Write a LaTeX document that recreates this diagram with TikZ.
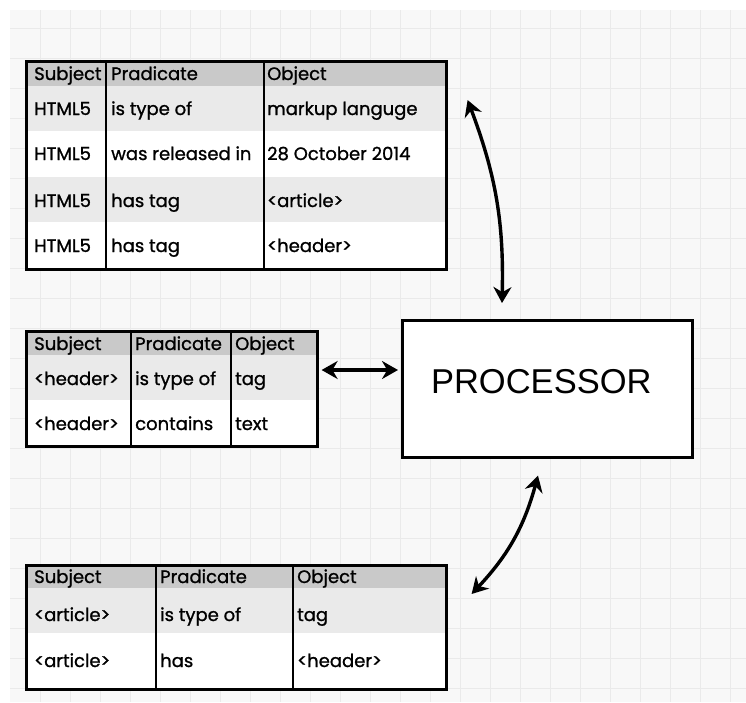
\documentclass[tikz,border=0pt]{standalone}
\usepackage{fontspec}
\setmainfont{Poppins}[FakeBold=1.1]
\newfontfamily\procfont{Liberation Sans}
\usetikzlibrary{arrows.meta,calc}
\definecolor{hdr}{HTML}{C9C9C9}
\definecolor{alt}{HTML}{EAEAEA}
\definecolor{bgc}{HTML}{F8F8F8}
\definecolor{gridc}{HTML}{EAEAEA}
\tikzset{
  tblbox/.style={draw=black, line width=2.6pt, anchor=north west, inner sep=0pt},
  colline/.style={draw=black, line width=1.8pt},
  cell/.style={anchor=base west, inner sep=0pt, font=\fontsize{18}{20}\selectfont},
  conn/.style={draw=black, line width=3.4pt, {Stealth[length=16pt,width=18pt]}-{Stealth[length=16pt,width=18pt]}},
}
\begin{document}
\begin{tikzpicture}[x=1pt,y=-1pt]
\useasboundingbox (0,0) rectangle (746,702);
\fill[white] (0,0) rectangle (746,702);
\fill[bgc] (10,10) rectangle (746,702);
\foreach \x in {40,70,...,730} \draw[gridc, line width=1pt] (\x,10) -- (\x,702);
\foreach \y in {28,58,...,700} \draw[gridc, line width=1pt] (10,\y) -- (746,\y);

% ---------- table 1
\fill[hdr] (25,60) rectangle (445,86);
\fill[alt] (25,86) rectangle (445,131);
\fill[white] (25,131) rectangle (445,177);
\fill[alt] (25,177) rectangle (445,222);
\fill[white] (25,222) rectangle (445,268);
\draw[colline] (106,60) -- (106,268);
\draw[colline] (264,60) -- (264,268);
\node[tblbox, minimum width=420pt, minimum height=208pt] (t1) at (25,60) {};
\node[cell] (a1) at (34,80) {Subject};
\node[cell] (a2) at (111,80) {Pradicate};
\node[cell] (a3) at (267,80) {Object};
\node[cell] (a4) at (34,115) {HTML5};
\node[cell] (a5) at (111,115) {is type of};
\node[cell] (a6) at (267,115) {markup languge};
\node[cell] (a7) at (34,160) {HTML5};
\node[cell] (a8) at (111,160) {was released in};
\node[cell] (a9) at (267,160) {28 October 2014};
\node[cell] (a10) at (34,207) {HTML5};
\node[cell] (a11) at (111,207) {has tag};
\node[cell] (a12) at (267,207) {<article>};
\node[cell] (a13) at (34,252) {HTML5};
\node[cell] (a14) at (111,252) {has tag};
\node[cell] (a15) at (267,252) {<header>};

% ---------- table 2
\fill[hdr] (25,330) rectangle (316,355);
\fill[alt] (25,355) rectangle (316,400);
\fill[white] (25,400) rectangle (316,445);
\draw[colline] (131,330) -- (131,445);
\draw[colline] (231,330) -- (231,445);
\node[tblbox, minimum width=291pt, minimum height=115pt] (t2) at (25,330) {};
\node[cell] (b1) at (34,350) {Subject};
\node[cell] (b2) at (135,350) {Pradicate};
\node[cell] (b3) at (235,350) {Object};
\node[cell] (b4) at (34,385) {<header>};
\node[cell] (b5) at (135,385) {is type of};
\node[cell] (b6) at (235,385) {tag};
\node[cell] (b7) at (34,430) {<header>};
\node[cell] (b8) at (135,430) {contains};
\node[cell] (b9) at (235,430) {text};

% ---------- table 3
\fill[hdr] (25,564) rectangle (445,588);
\fill[alt] (25,588) rectangle (445,633);
\fill[white] (25,633) rectangle (445,688);
\draw[colline] (156,564) -- (156,688);
\draw[colline] (293,564) -- (293,688);
\node[tblbox, minimum width=420pt, minimum height=124pt] (t3) at (25,564) {};
\node[cell] (c1) at (34,583) {Subject};
\node[cell] (c2) at (160,583) {Pradicate};
\node[cell] (c3) at (297,583) {Object};
\node[cell] (c4) at (34,621) {<article>};
\node[cell] (c5) at (160,621) {is type of};
\node[cell] (c6) at (297,621) {tag};
\node[cell] (c7) at (34,667) {<article>};
\node[cell] (c8) at (160,667) {has};
\node[cell] (c9) at (297,667) {<header>};

% ---------- processor
\node[draw=black, line width=2.6pt, fill=white, anchor=north west, inner sep=0pt,
      minimum width=290pt, minimum height=137pt] (proc) at (401,319) {};
\node[anchor=center, inner sep=0pt, font=\procfont\fontsize{34.5}{38}\selectfont]
      (plabel) at ($(proc.center)+(-6,-7)$) {PROCESSOR};

% ---------- connectors
\draw[conn] ($(t1.north east)+(20,40)$) to[bend left=11] ($(proc.north west)+(101,-16)$);
\draw[conn] ($(t2.north east)+(3,40)$) -- ($(proc.north west)+(-3,51)$);
\draw[conn] ($(proc.south west)+(137,17)$) to[bend left=14] ($(t3.north east)+(24,30)$);
\end{tikzpicture}
\end{document}
